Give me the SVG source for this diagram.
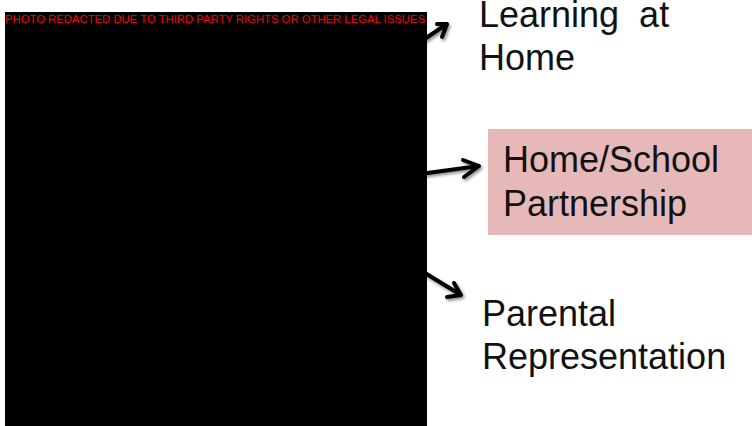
<svg xmlns="http://www.w3.org/2000/svg" width="752" height="426" viewBox="0 0 752 426">
  <defs>
    <filter id="shadow" x="-30%" y="-30%" width="160%" height="160%">
      <feDropShadow dx="1.5" dy="2" stdDeviation="1.5" flood-color="#000" flood-opacity="0.45"/>
    </filter>
  </defs>
  <style>
    .lbl { font-family: "Liberation Sans", Arial, sans-serif; font-size: 36px; fill: #111; }
    .red { font-family: "Liberation Sans", Arial, sans-serif; font-size: 11.3px; fill: #ff0000; }
    .arr { fill: none; stroke: #000; stroke-width: 4; stroke-linecap: round; stroke-linejoin: round; }
  </style>
  <rect width="752" height="426" fill="#fff"/>

  <g id="connectors" filter="url(#shadow)">
    <path class="arr" d="M420 42 L447 24 M437 24 L447 24 L442 37"/>
    <path class="arr" d="M420 174 L479 166 M463 160 L479 166 L464 177"/>
    <path class="arr" d="M420 270 L461 295 M454 283 L461 295 L447 297"/>
  </g>

  <g id="photo">
    <rect x="5" y="12" width="422" height="414" fill="#000"/>
    <text class="red" x="5" y="23">PHOTO REDACTED DUE TO THIRD PARTY RIGHTS OR OTHER LEGAL ISSUES</text>
  </g>

  <g id="learning-at-home">
    <text class="lbl" x="479" y="27">Learning&#160;&#160;at</text>
    <text class="lbl" x="479" y="70">Home</text>
  </g>

  <g id="home-school-partnership">
    <rect x="488" y="129" width="264" height="106" fill="#e6b9b8"/>
    <text class="lbl" x="503" y="172">Home/School</text>
    <text class="lbl" x="503" y="216">Partnership</text>
  </g>

  <g id="parental-representation">
    <text class="lbl" x="482" y="326">Parental</text>
    <text class="lbl" x="482" y="369">Representation</text>
  </g>
</svg>
